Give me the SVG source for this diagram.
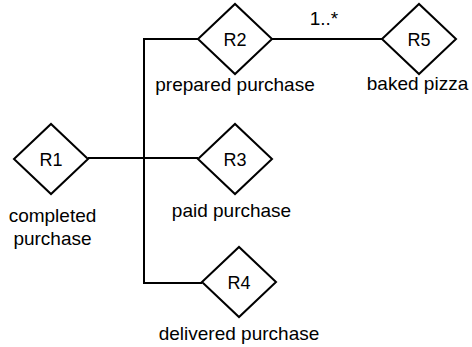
<svg xmlns="http://www.w3.org/2000/svg" width="472" height="347" viewBox="0 0 472 347">
  <style>
    .shape { fill: #fff; stroke: #000; stroke-width: 2; stroke-linejoin: miter; }
    .wire { fill: none; stroke: #000; stroke-width: 2; }
    .id { font-family: "Liberation Sans", Arial, sans-serif; font-size: 18px; text-anchor: middle; fill: #000; }
    .name { font-family: "Liberation Sans", Arial, sans-serif; font-size: 19px; text-anchor: middle; fill: #000; }
  </style>
  <defs>
    <polygon id="rel" points="-37,0 0,-35 37,0 0,35"/>
  </defs>

  <g id="connectors">
    <polyline class="wire" points="198,39 144,39 144,283 202,283"/>
    <line class="wire" x1="88" y1="158" x2="198" y2="158"/>
    <line class="wire" x1="272" y1="39" x2="383" y2="39"/>
    <text class="name" x="324" y="25" font-size="18">1..*</text>
  </g>

  <g id="R1">
    <use href="#rel" class="shape" x="51" y="159"/>
    <text class="id" x="51" y="165.5">R1</text>
    <text class="name" x="52.5" y="221.5">completed</text>
    <text class="name" x="52.5" y="245">purchase</text>
  </g>

  <g id="R2">
    <use href="#rel" class="shape" x="235" y="39"/>
    <text class="id" x="235" y="45.5">R2</text>
    <text class="name" x="235" y="91">prepared purchase</text>
  </g>

  <g id="R3">
    <use href="#rel" class="shape" x="235" y="159"/>
    <text class="id" x="235" y="165.5">R3</text>
    <text class="name" x="231.5" y="217">paid purchase</text>
  </g>

  <g id="R4">
    <use href="#rel" class="shape" x="239" y="282"/>
    <text class="id" x="239" y="288.5">R4</text>
    <text class="name" x="239" y="340">delivered purchase</text>
  </g>

  <g id="R5">
    <use href="#rel" class="shape" x="419" y="39"/>
    <text class="id" x="419" y="45.5">R5</text>
    <text class="name" x="417.5" y="90">baked pizza</text>
  </g>
</svg>
